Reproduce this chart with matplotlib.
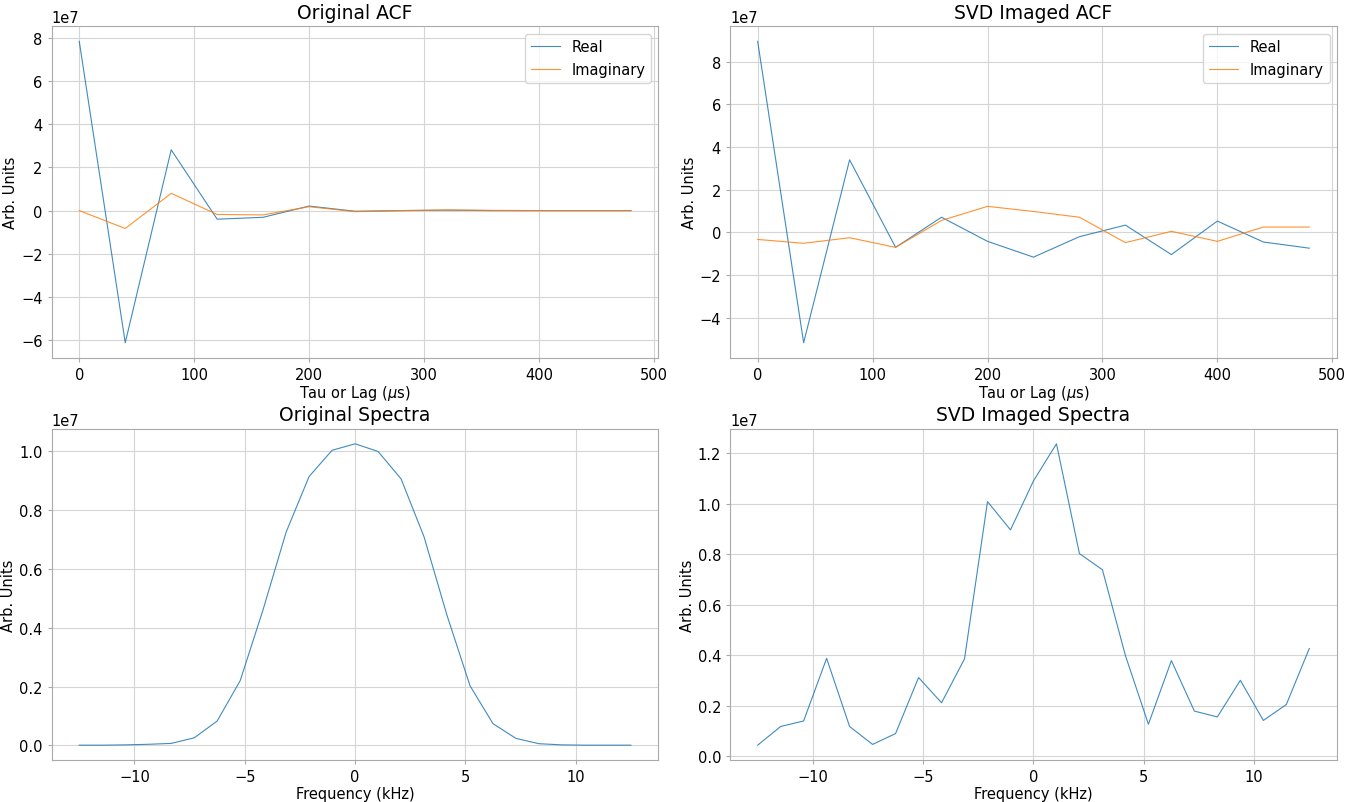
import numpy as np
import matplotlib
matplotlib.use('Agg')
import matplotlib.pyplot as plt

# lags (us) and frequencies (kHz)
lags = [0, 40, 80, 120, 160, 200, 240, 280, 320, 360, 400, 440, 480]
freqs = list(np.linspace(-12.5, 12.5, 25))

# original ACF (x1e7)
orig_real = [7.85, -6.13, 2.82, -0.40, -0.31, 0.21, -0.03, 0.0, 0.02, 0.0, 0.0, 0.0, 0.0]
orig_imag = [0.0, -0.83, 0.80, -0.18, -0.20, 0.18, -0.05, 0.0, 0.03, 0.01, 0.0, 0.0, 0.0]

# SVD imaged ACF (x1e7)
svd_real = [8.95, -5.17, 3.40, -0.70, 0.71, -0.42, -1.16, -0.20, 0.34, -1.04, 0.53, -0.45, -0.74]
svd_imag = [-0.33, -0.51, -0.25, -0.70, 0.56, 1.22, 0.98, 0.71, -0.48, 0.05, -0.42, 0.25, 0.25]

# spectra (x1e7)
orig_spec = [0.001, 0.001, 0.002, 0.004, 0.007, 0.026, 0.083, 0.220, 0.462, 0.725,
             0.914, 1.003, 1.025, 0.999, 0.906, 0.709, 0.442, 0.203, 0.074, 0.024,
             0.006, 0.002, 0.001, 0.001, 0.001]
svd_spec = [0.044, 0.118, 0.140, 0.388, 0.118, 0.047, 0.090, 0.312, 0.212, 0.386,
            1.009, 0.897, 1.091, 1.238, 0.803, 0.739, 0.399, 0.127, 0.379, 0.179,
            0.156, 0.301, 0.142, 0.205, 0.427]

plt.rcParams['font.family'] = 'DejaVu Sans'
plt.rcParams['font.size'] = 10.5
plt.rcParams['axes.edgecolor'] = '#aaaaaa'
plt.rcParams['xtick.color'] = '#aaaaaa'
plt.rcParams['ytick.color'] = '#aaaaaa'
plt.rcParams['xtick.labelcolor'] = 'black'
plt.rcParams['ytick.labelcolor'] = 'black'
plt.rcParams['xtick.major.size'] = 3
plt.rcParams['ytick.major.size'] = 3

fig, axs = plt.subplots(2, 2, figsize=(13.6, 8.03), dpi=100)
fig.subplots_adjust(left=0.038, right=0.983, top=0.966, bottom=0.052,
                    wspace=0.118, hspace=0.214)

lw = 0.8

def style(ax, title, xlabel):
    ax.set_title(title, fontsize=13.5)
    ax.set_xlabel(xlabel, labelpad=1)
    ax.set_ylabel('Arb. Units', labelpad=2)
    ax.grid(True, color='#d5d5d5', linewidth=0.8)

ax = axs[0, 0]
ax.plot(lags, np.array(orig_real) * 1e7, lw=lw, alpha=0.85, label='Real')
ax.plot(lags, np.array(orig_imag) * 1e7, lw=lw, alpha=0.85, label='Imaginary')
style(ax, 'Original ACF', r'Tau or Lag ($\mu$s)')
ax.legend(loc='upper right')

ax = axs[0, 1]
ax.plot(lags, np.array(svd_real) * 1e7, lw=lw, alpha=0.85, label='Real')
ax.plot(lags, np.array(svd_imag) * 1e7, lw=lw, alpha=0.85, label='Imaginary')
style(ax, 'SVD Imaged ACF', r'Tau or Lag ($\mu$s)')
ax.legend(loc='upper right')

ax = axs[1, 0]
ax.plot(freqs, np.array(orig_spec) * 1e7, lw=lw, alpha=0.85)
style(ax, 'Original Spectra', 'Frequency (kHz)')

ax = axs[1, 1]
ax.plot(freqs, np.array(svd_spec) * 1e7, lw=lw, alpha=0.85)
style(ax, 'SVD Imaged Spectra', 'Frequency (kHz)')

for ax in axs.flat:
    ax.yaxis.get_offset_text().set_fontsize(10.5)

fig.savefig('out.png', dpi=100)
